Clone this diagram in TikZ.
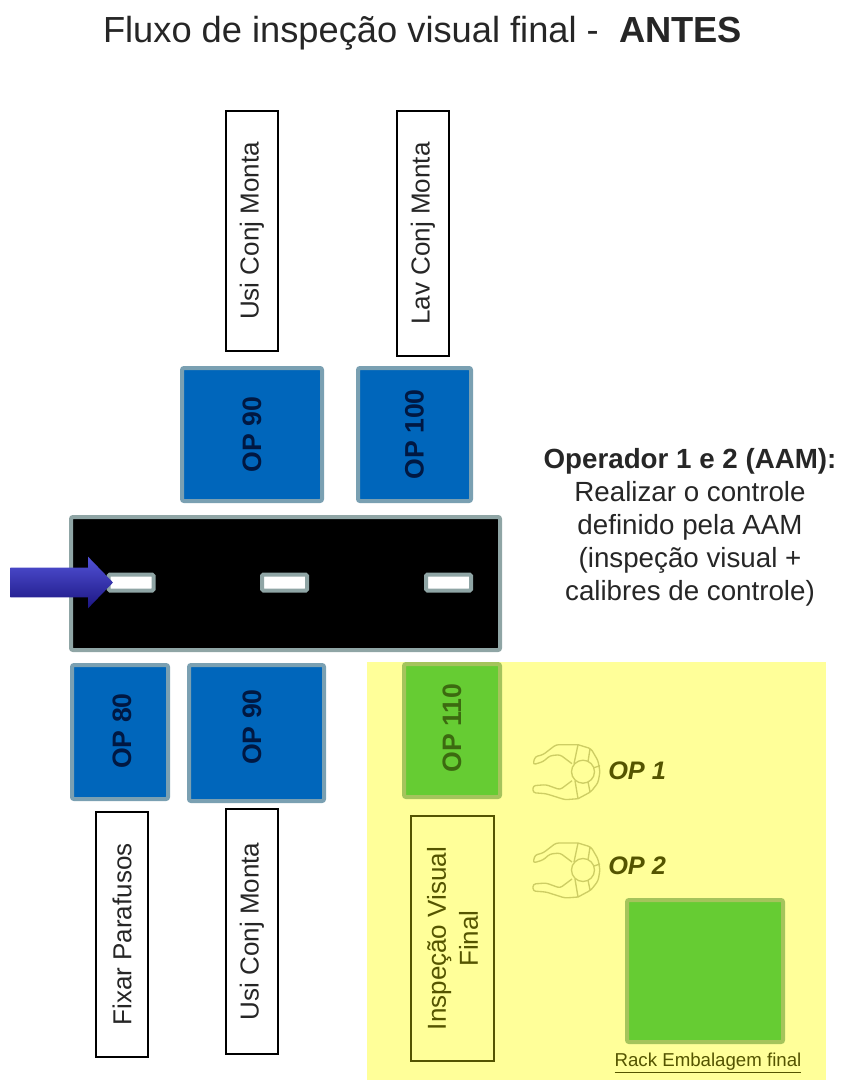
\documentclass[tikz,border=0pt]{standalone}
\usepackage{fontspec}
\setmainfont{Liberation Sans}
\usepackage{xcolor}
\usetikzlibrary{shapes.arrows}
\definecolor{OpBlue}{RGB}{0,102,187}
\definecolor{OpBlueEdge}{RGB}{122,160,178}
\definecolor{OpInk}{RGB}{0,24,66}
\definecolor{RoadEdge}{RGB}{143,165,165}
\definecolor{ZoneYellow}{RGB}{255,255,153}
\definecolor{ZoneInk}{RGB}{84,84,0}
\definecolor{RackGreen}{RGB}{102,204,51}
\definecolor{RackEdge}{RGB}{165,196,92}
\definecolor{RackInk}{RGB}{60,106,16}
\definecolor{FigLine}{RGB}{205,205,100}
\definecolor{ArrowTop}{RGB}{82,82,215}
\definecolor{ArrowLow}{RGB}{28,22,130}
\tikzset{
  boxsize/.style 2 args={minimum width=#1*0.75pt, minimum height=#2*0.75pt, inner sep=0pt},
  rotsize/.style 2 args={rotate=90, minimum width=#2*0.75pt, minimum height=#1*0.75pt, inner sep=0pt},
  opbox/.style={draw=OpBlueEdge, line width=3pt, rounded corners=1.5pt, fill=OpBlue, text=OpInk,
    font=\fontsize{20}{23}\selectfont\bfseries},
  optxt/.style={rotate=90, inner sep=0pt, text=OpInk, font=\fontsize{20}{23}\selectfont\bfseries},
  greenbox/.style={draw=RackEdge, line width=3pt, rounded corners=1.5pt, fill=RackGreen},
  lbl/.style={draw=black, line width=0.9pt, fill=white, text=black!85, align=center,
    font=\fontsize{19.5}{24}\selectfont},
  zonelbl/.style={lbl, draw=ZoneInk, fill=ZoneYellow, text=ZoneInk},
  oplab/.style={anchor=west, inner sep=0pt, text=ZoneInk, font=\fontsize{19}{22}\selectfont\bfseries\itshape},
  dashbox/.style={draw=RoadEdge, line width=3pt, rounded corners=1pt, fill=white},
  oper/.pic={
    \draw[FigLine, line width=1pt, line join=round] (0,0) circle (11.5);
    \draw[FigLine, line width=1pt, line join=round, rounded corners=2pt]
      (-5,-27) -- (8,-23) -- (15,-11) -- (17,0) -- (15,11) -- (8,20) -- (-5,27)
      (-5,-27) -- (-27,-27) -- (-40,-17) -- (-48,-15) -- (-50,-7) -- (-40,-10) -- (-33,-16) -- (-23,-17) -- (-11,-8)
      (-5,27) -- (-18,28) -- (-37,22) -- (-50,21) -- (-50,14) -- (-37,13) -- (-23,18) -- (-11,9)
      (-5,-27) -- (-9,-8) (7,-23) -- (5,-10) (-5,27) -- (-8,9) (7,20) -- (5,10) (11,-4) -- (17,-6);
  },
}

\begin{document}
\begin{tikzpicture}[x=0.75pt, y=-0.75pt]
  \useasboundingbox (0,0) rectangle (840,1080);
  \node[font=\fontsize{27.2}{31}\selectfont, text=black!85] (title) at (422.5,33)
    {Fluxo de inspeção visual final -\ \ \textbf{ANTES}};
  % zona amarela
  \node[fill=ZoneYellow, boxsize={459}{418}] (zone) at (596.5,871) {};
  % linha
  \node[draw=RoadEdge, line width=3pt, rounded corners=1.5pt, fill=black, boxsize={429}{133}] (road) at (285.5,583.5) {};
  \foreach \name/\xx in {d1/131, d2/284.5, d3/448.5} {
    \node[dashbox, boxsize={45}{16}] (\name) at (\xx,582.5) {};
  }
  \node[single arrow, single arrow head extend=8.25pt, single arrow tip angle=92,
    text height=21.75pt, text depth=0pt, text width=0pt, minimum height=77pt, inner sep=0pt, draw=none,
    top color=ArrowTop, bottom color=ArrowLow] (entry) at (54.5,582.5) {};
  % postos
  \node[opbox, rotsize={140}{133}] (op90a) at (252,434.5) {OP 90};
  \node[opbox, rotsize={113}{133}] (op100) at (414.5,434.5) {OP 100};
  \node[opbox, rotsize={96}{134}] (op80) at (120,732) {};
  \node[optxt] (t80) at (122,731) {OP 80};
  \node[opbox, rotsize={135}{136}] (op90b) at (256.5,733) {};
  \node[optxt] (t90b) at (252,727) {OP 90};
  \node[greenbox, rotsize={96}{133}] (op110) at (452,730.5) {};
  \node[optxt, text=RackInk] (t110) at (452,728) {OP 110};
  \node[greenbox, boxsize={156}{142}] (rack) at (705,971) {};
  % etiquetas
  \node[lbl, rotsize={52}{240}] (usia) at (252,231) {Usi Conj Monta};
  \node[lbl, rotsize={52}{245}] (lav) at (423,233.5) {Lav Conj Monta};
  \node[lbl, rotsize={52}{245}] (fixar) at (122,934.5) {Fixar Parafusos};
  \node[lbl, rotsize={52}{245}] (usib) at (252,931.5) {Usi Conj Monta};
  \node[zonelbl, rotsize={83}{245}] (insp) at (452.5,938.5) {Inspeção Visual\\Final};
  % operadores
  \pic at (583,771.7) {oper};
  \pic at (583,870) {oper};
  \node[oplab] (op1) at (608,770.7) {OP 1};
  \node[oplab] (op2) at (608,866) {OP 2};
  \node[text=ZoneInk, inner sep=0pt, font=\fontsize{14}{16}\selectfont] (racklab) at (708,1063)
    {\underline{Rack Embalagem final}};
  \node[align=center, text=black!85, font=\fontsize{20.8}{24.75}\selectfont] (opnote) at (690,527)
    {\textbf{Operador 1 e 2 (AAM):}\\Realizar o controle\\definido pela AAM\\(inspeção visual +\\calibres de controle)};
\end{tikzpicture}
\end{document}
